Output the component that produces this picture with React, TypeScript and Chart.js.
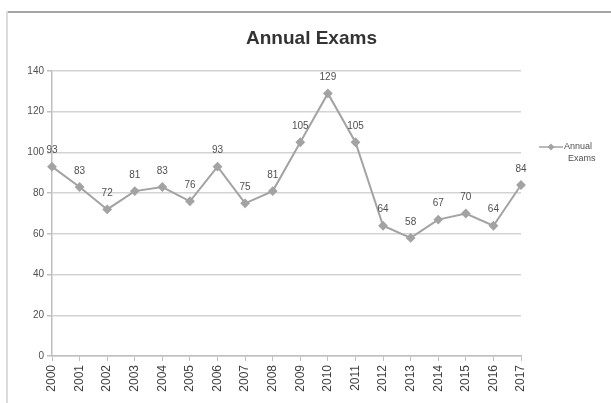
import React, { useEffect, useRef } from "react";
import { Chart, registerables } from "chart.js";

Chart.register(...registerables);

const years = ["2000", "2001", "2002", "2003", "2004", "2005", "2006", "2007", "2008", "2009", "2010", "2011", "2012", "2013", "2014", "2015", "2016", "2017"];
const exams = [93, 83, 72, 81, 83, 76, 93, 75, 81, 105, 129, 105, 64, 58, 67, 70, 64, 84];
const yMin = 0;
const yMax = 140;
const yStep = 20;
const chartTitle = "Annual Exams";
const legendLines = ["Annual", "Exams"];

const FONT = "'Liberation Sans', Arial, sans-serif";
const LINE_COLOR = "#a3a3a3";

const dataLabelPlugin = {
  id: "dataLabels",
  afterDatasetsDraw(chart: any) {
    const ctx = chart.ctx;
    const meta = chart.getDatasetMeta(0);
    ctx.save();
    ctx.font = `10px ${FONT}`;
    ctx.fillStyle = "#505050";
    ctx.textAlign = "center";
    ctx.textBaseline = "middle";
    meta.data.forEach((pt: any, i: number) => {
      ctx.fillText(String(exams[i]), pt.x, pt.y - 16);
    });
    ctx.restore();
  },
};

const titleLegendPlugin = {
  id: "titleLegend",
  afterDraw(chart: any) {
    const ctx = chart.ctx;
    const area = chart.chartArea;
    ctx.save();
    // title
    ctx.font = `bold 19px ${FONT}`;
    ctx.fillStyle = "#333333";
    ctx.textAlign = "center";
    ctx.textBaseline = "middle";
    ctx.fillText(chartTitle, chart.width / 2 + 6, 39);
    // legend
    const lx = area.right + 18;
    const ly = 147;
    ctx.strokeStyle = LINE_COLOR;
    ctx.lineWidth = 1.5;
    ctx.beginPath();
    ctx.moveTo(lx, ly);
    ctx.lineTo(lx + 24, ly);
    ctx.stroke();
    ctx.fillStyle = LINE_COLOR;
    ctx.beginPath();
    ctx.moveTo(lx + 12, ly - 3.5);
    ctx.lineTo(lx + 15.5, ly);
    ctx.lineTo(lx + 12, ly + 3.5);
    ctx.lineTo(lx + 8.5, ly);
    ctx.closePath();
    ctx.fill();
    ctx.font = `9px ${FONT}`;
    ctx.fillStyle = "#505050";
    ctx.textAlign = "left";
    ctx.fillText(legendLines[0], lx + 25, ly);
    ctx.fillText(legendLines[1], lx + 29, ly + 12);
    ctx.restore();
  },
};

export default function App() {
  const ref = useRef<HTMLCanvasElement>(null);

  useEffect(() => {
    if (!ref.current) return;
    const chart = new Chart(ref.current, {
      type: "line",
      data: {
        labels: years,
        datasets: [
          {
            label: chartTitle,
            data: exams,
            borderColor: LINE_COLOR,
            backgroundColor: LINE_COLOR,
            borderWidth: 2,
            pointStyle: "rectRot",
            pointRadius: 3.5,
            pointBackgroundColor: LINE_COLOR,
            pointBorderColor: LINE_COLOR,
            tension: 0,
          },
        ],
      },
      options: {
        responsive: false,
        animation: false,
        layout: { padding: { top: 71, right: 90, left: 0, bottom: 0 } },
        plugins: {
          legend: { display: false },
          title: { display: false },
          tooltip: { enabled: false },
        },
        scales: {
          x: {
            offset: false,
            afterFit: (s: any) => {
              s.height = 47;
            },
            grid: {
              color: "transparent",
              drawTicks: true,
              tickColor: "#bfbfbf",
              tickLength: 5,
            },
            border: { color: "#bfbfbf", width: 1.5 },
            ticks: {
              minRotation: 90,
              maxRotation: 90,
              autoSkip: false,
              color: "#404040",
              font: { family: FONT, size: 12 },
              padding: 4,
            },
          },
          y: {
            min: yMin,
            max: yMax,
            afterFit: (s: any) => {
              s.width = 52;
            },
            grid: {
              color: "#d3d3d3",
              lineWidth: 1.5,
              tickColor: "#bfbfbf",
              tickLength: 5,
            },
            border: { color: "#bfbfbf", width: 1.5 },
            ticks: {
              stepSize: yStep,
              color: "#505050",
              font: { family: FONT, size: 10 },
              padding: 3,
            },
          },
        },
      },
      plugins: [dataLabelPlugin, titleLegendPlugin],
    });
    return () => chart.destroy();
  }, []);

  return (
    <div style={{ position: "absolute", left: 0, top: 0, width: 611, height: 403, background: "#ffffff", overflow: "hidden" }}>
      <div style={{ position: "absolute", left: 6, top: 11, right: 0, height: 2, background: "#a6a6a6" }} />
      <div style={{ position: "absolute", left: 6, top: 11, bottom: 0, width: 2, background: "#dcdcdc" }} />
      <canvas ref={ref} width={611} height={403} style={{ position: "absolute", left: 0, top: 0, width: 611, height: 403 }} />
    </div>
  );
}
